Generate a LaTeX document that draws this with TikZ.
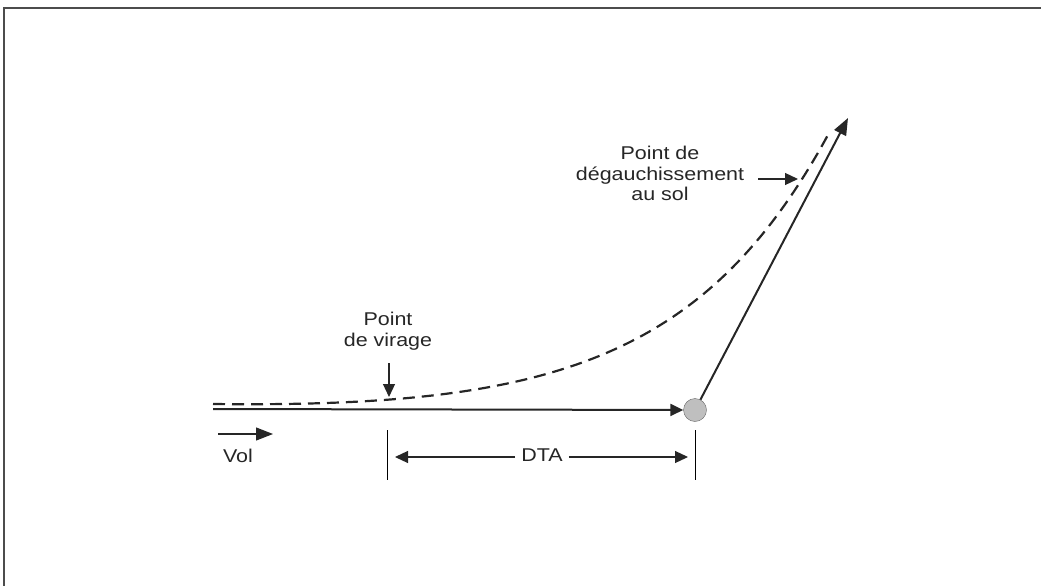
\documentclass[tikz,border=0pt]{standalone}
\usepackage{fontspec}
\setmainfont{Liberation Sans}
\usepackage{graphicx}
\usetikzlibrary{arrows.meta}
\tikzset{>={Triangle[length=13pt,width=12pt]}}
\tikzset{trace/.style={line width=2pt, color=black!85}}
\tikzset{fin/.style={line width=1.2pt, color=black!85}}
\tikzset{label/.style={inner sep=2pt, font=\fontsize{18.5}{20.5}\selectfont, text=black!85}}
\newcommand{\etire}[1]{\scalebox{1.16}[1]{\begin{tabular}{@{}c@{}}#1\end{tabular}}}

\begin{document}
\begin{tikzpicture}[x=1pt, y=-1pt]
      \useasboundingbox (0, 0) rectangle (1041, 586);
      \draw[line width=1.5pt, color=black!70] (4, 586) -- (4, 8) -- (1041, 8);
      \coordinate (A) at (213, 409);
      \node[circle, draw=black!60, fill=black!25, minimum size=23pt, inner sep=0pt] (B) at (695, 410) {};
      \coordinate (C) at (848, 118);
      \draw[trace, ->] (A) -- (B);
      \draw[trace, ->, >={Triangle[length=17pt,width=13pt]}] (B) -- (C);
      \draw[line width=2.2pt, color=black!85, dash pattern=on 12pt off 7pt] (213, 404) .. controls (550, 408) and (706, 360) .. (829, 133);
      \node[label] (V) at (388, 332) {\etire{Point\\de virage}};
      \coordinate (V1) at (389, 363);
      \coordinate (V2) at (389, 397);
      \draw[fin, ->] (V1) -- (V2);
      \node[label] (D) at (660, 176) {\etire{Point de\\dégauchissement\\au sol}};
      \coordinate (D1) at (758, 179);
      \coordinate (D2) at (798, 179);
      \draw[fin, ->] (D1) -- (D2);
      \node[label] (F) at (238, 458) {\etire{Vol}};
      \coordinate (F1) at (218, 434);
      \coordinate (F2) at (273, 434);
      \draw[fin, ->, >={Triangle[length=17pt,width=13pt]}] (F1) -- (F2);
      \draw[line width=1pt] (387, 430) -- (387, 480);
      \draw[line width=1pt] (695, 430) -- (695, 480);
      \node[label, fill=white, inner xsep=6pt] (T) at (542, 457) {\etire{DTA}};
      \draw[fin, ->] (T) -- (395, 457);
      \draw[fin, ->] (T) -- (688, 457);
    \end{tikzpicture}
\end{document}
